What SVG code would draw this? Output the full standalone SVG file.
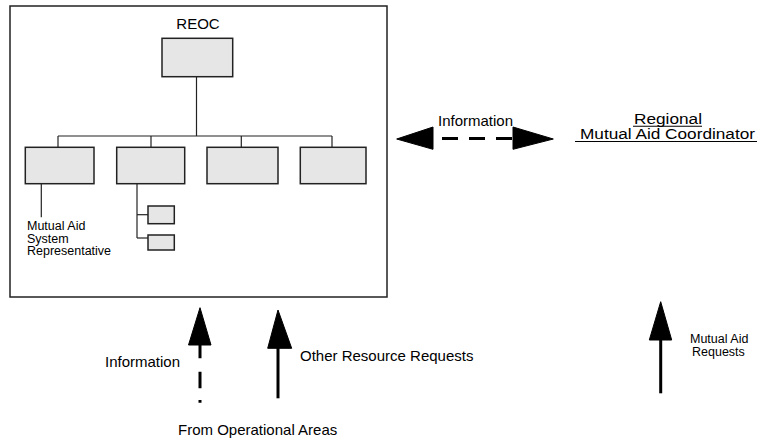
<svg xmlns="http://www.w3.org/2000/svg" width="767" height="441" viewBox="0 0 767 441">
<style>
text{font-family:"Liberation Sans",Arial,sans-serif;fill:#000}
.box{fill:#e6e6e6;stroke:#222;stroke-width:1.5}
.frame{fill:#fff;stroke:#222;stroke-width:1.5}
.ln{stroke:#222;stroke-width:1.2;fill:none}
.head{fill:#000;stroke:#000;stroke-width:1;stroke-linejoin:round}
.shaft{stroke:#000;stroke-width:3;fill:none}
.big{font-size:15px}
.small{font-size:12.5px}
.title{font-size:15.5px}
</style>
<rect width="767" height="441" fill="#fff"/>
<g id="reoc-frame">
<rect class="frame" x="10" y="6" width="377" height="291"/>
<text class="big" x="198" y="29" text-anchor="middle">REOC</text>
</g>
<g id="org-lines">
<line class="ln" x1="196.5" y1="76.7" x2="196.5" y2="136"/>
<line class="ln" x1="58" y1="136" x2="332" y2="136"/>
<line class="ln" x1="58" y1="136" x2="58" y2="147.3"/>
<line class="ln" x1="151" y1="136" x2="151" y2="147.3"/>
<line class="ln" x1="241.3" y1="136" x2="241.3" y2="147.3"/>
<line class="ln" x1="332" y1="136" x2="332" y2="147.3"/>
<line class="ln" x1="41.3" y1="183.7" x2="41.3" y2="217.3"/>
<line class="ln" x1="137" y1="183.7" x2="137" y2="238"/>
<line class="ln" x1="137" y1="214.7" x2="148" y2="214.7"/>
<line class="ln" x1="137" y1="238" x2="148" y2="238"/>
</g>
<g id="node-top"><rect class="box" x="162" y="38.3" width="70.7" height="38.4"/></g>
<g id="node-c1"><rect class="box" x="25.3" y="147.3" width="68.7" height="36.4"/></g>
<g id="node-c2"><rect class="box" x="116.7" y="147.3" width="68" height="36.4"/></g>
<g id="node-c3"><rect class="box" x="207" y="147.3" width="71" height="36.4"/></g>
<g id="node-c4"><rect class="box" x="300.3" y="147.3" width="65.7" height="36.4"/></g>
<g id="node-s1"><rect class="box" x="148" y="206" width="26.3" height="17.7"/></g>
<g id="node-s2"><rect class="box" x="148" y="235" width="26.3" height="15"/></g>
<g id="label-rep">
<text class="small" x="27" y="230">Mutual Aid</text>
<text class="small" x="27" y="242.5">System</text>
<text class="small" x="27" y="255">Representative</text>
</g>
<g id="node-regional">
<text class="title" x="634" y="123.5" textLength="68" lengthAdjust="spacingAndGlyphs">Regional</text>
<line x1="633" y1="126.3" x2="702" y2="126.3" stroke="#000" stroke-width="1.1"/>
<text class="title" x="580" y="139" textLength="175" lengthAdjust="spacingAndGlyphs">Mutual Aid Coordinator</text>
<line x1="575" y1="141.5" x2="757" y2="141.5" stroke="#000" stroke-width="1.1"/>
</g>
<g id="connectors">
<polygon class="head" points="396.7,139 433,127 433,149.3"/>
<polygon class="head" points="553.3,139 513,127 513,149.3"/>
<line class="shaft" x1="442" y1="138.5" x2="513" y2="138.5" stroke-dasharray="16 11"/>
<polygon class="head" points="200,307.7 188.5,345 211,345"/>
<line class="shaft" x1="200" y1="345" x2="200" y2="403" stroke-dasharray="13.3 13.4 16.6 11.7 2.7 20"/>
<polygon class="head" points="278,310 267.7,348.3 291.7,348.3"/>
<line class="shaft" x1="278" y1="348" x2="278" y2="398.3"/>
<polygon class="head" points="660.7,301.7 649.3,340 671.7,340"/>
<line class="shaft" x1="660.7" y1="340" x2="660.7" y2="393.3"/>
</g>
<g id="labels">
<text class="big" x="438" y="126">Information</text>
<text class="big" x="105" y="367">Information</text>
<text class="big" x="300" y="361">Other Resource Requests</text>
<text class="big" x="178" y="435">From Operational Areas</text>
<text class="small" x="690" y="342.7">Mutual Aid</text>
<text class="small" x="692" y="355.5">Requests</text>
</g>
</svg>
